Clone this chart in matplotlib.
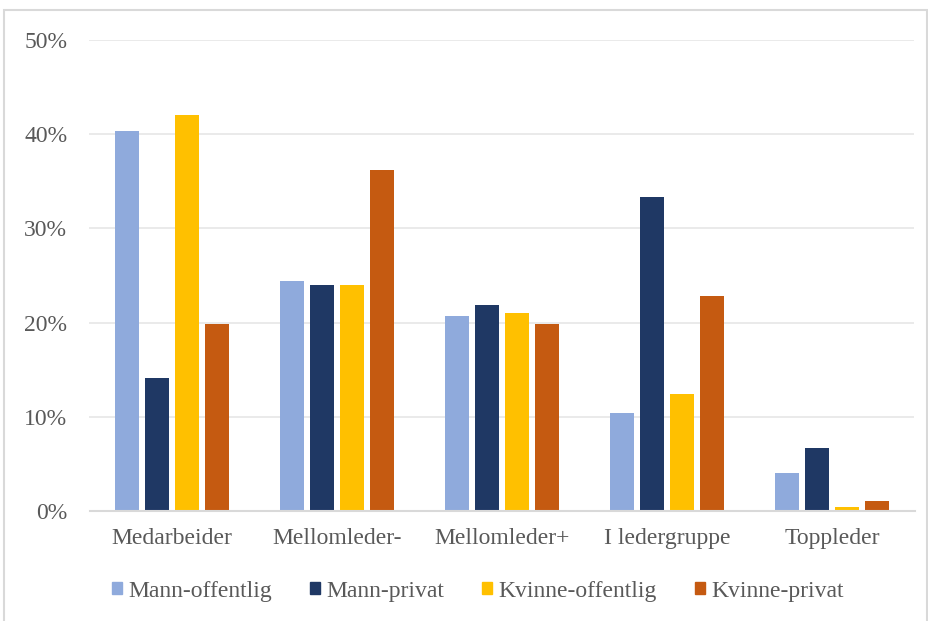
import numpy as np
import matplotlib
matplotlib.use('Agg')
import matplotlib.pyplot as plt
from matplotlib.patches import Rectangle, Patch
from matplotlib.ticker import PercentFormatter

plt.rcParams['font.family'] = 'Liberation Serif'
plt.rcParams['font.size'] = 17

categories = ['Medarbeider', 'Mellomleder-', 'Mellomleder+', 'I ledergruppe', 'Toppleder']
series = ['Mann-offentlig', 'Mann-privat', 'Kvinne-offentlig', 'Kvinne-privat']
mann_offentlig = [40.3, 24.4, 20.7, 10.4, 4.0]
mann_privat = [14.1, 24.0, 21.9, 33.3, 6.7]
kvinne_offentlig = [42.0, 24.0, 21.0, 12.4, 0.4]
kvinne_privat = [19.9, 36.2, 19.9, 22.8, 1.1]
values = [mann_offentlig, mann_privat, kvinne_offentlig, kvinne_privat]
colors = ['#8FAADC', '#1F3864', '#FFC000', '#C55A11']
txt = '#595959'

fig = plt.figure(figsize=(9.29, 6.21), dpi=100)
ax = fig.add_axes([89.5/929, 1-511/621, 825/929, 471/621])

x = np.arange(len(categories))
step = 0.182
w = 0.145
for i, (vals, c) in enumerate(zip(values, colors)):
    ax.bar(x + (i-1.5)*step, vals, width=w, color=c, zorder=3)

ax.set_xlim(-0.5, len(categories)-0.5)
ax.set_ylim(0, 50)
ax.set_yticks(np.arange(0, 51, 10))
ax.yaxis.set_major_formatter(PercentFormatter(decimals=0))
ax.set_xticks(x)
ax.set_xticklabels(categories)
ax.grid(axis='y', color='#E6E6E6', lw=1.2, zorder=0)
for s in ['top', 'right', 'left']:
    ax.spines[s].set_visible(False)
ax.spines['bottom'].set_color('#D9D9D9')
ax.spines['bottom'].set_linewidth(1.5)
ax.spines['bottom'].set_zorder(4)
ax.tick_params(axis='both', length=0, colors=txt)
ax.tick_params(axis='y', pad=16)
ax.tick_params(axis='x', pad=12)

handles = [Patch(color=c, label=s) for s, c in zip(series, colors)]
leg = fig.legend(handles=handles, loc='center', bbox_to_anchor=(478/929, 1-591/621),
                 ncol=4, frameon=False, handlelength=0.42, handleheight=0.42,
                 handletextpad=0.28, columnspacing=1.6, borderaxespad=0)
for t in leg.get_texts():
    t.set_color(txt)

# outer chart frame
fig.patches.append(Rectangle((4/929, -0.05), 923/929, 1.05 - 10/621, transform=fig.transFigure,
                             fill=False, edgecolor='#D9D9D9', lw=1.5))

fig.savefig('out.png', dpi=100, facecolor='white')
